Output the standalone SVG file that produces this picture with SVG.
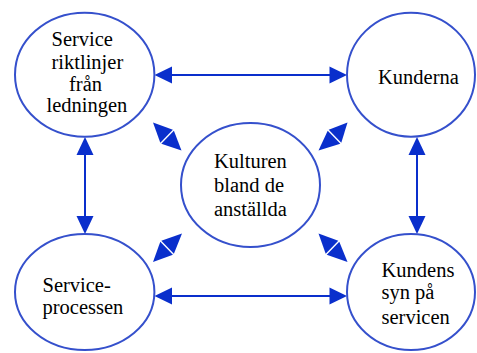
<svg xmlns="http://www.w3.org/2000/svg" width="477" height="353" viewBox="0 0 477 353">
<style>
.node ellipse{fill:#ffffff;stroke:#3550cc;stroke-width:2}
.node text{font-family:"Liberation Serif","Times New Roman",serif;font-size:20.5px;fill:#000000}
.conn line{stroke:#0a2fcc;stroke-width:2}
.conn polygon{fill:#0a2fcc;stroke:none}
</style>
<rect width="477" height="353" fill="#ffffff"/>
<g id="connectors" class="conn">
  <line x1="170" y1="75" x2="331" y2="75"/>
  <polygon points="154.5,75 172,66.5 172,83.5"/>
  <polygon points="347,75 329.5,66.5 329.5,83.5"/>
  <line x1="170" y1="296" x2="331" y2="296"/>
  <polygon points="154.5,296 172,287.5 172,304.5"/>
  <polygon points="347,296 329.5,287.5 329.5,304.5"/>
  <line x1="85" y1="153" x2="85" y2="218"/>
  <polygon points="85,137 76.5,155 93.5,155"/>
  <polygon points="85,234 76.5,216 93.5,216"/>
  <line x1="417" y1="153" x2="417" y2="218"/>
  <polygon points="417,137 408.5,155 425.5,155"/>
  <polygon points="417,234 408.5,216 425.5,216"/>
  <polygon points="153,122.5 160.3,142.7 172.9,129.7"/>
  <polygon points="181.5,150.5 161.3,143.7 173.9,130.7"/>
  <polygon points="347.5,122.5 328.7,129.7 341.3,142.7"/>
  <polygon points="318.5,150.5 327.7,130.7 340.3,143.7"/>
  <polygon points="182,233.5 161.3,240.7 173.9,253.7"/>
  <polygon points="153,262 160.3,241.7 172.9,254.7"/>
  <polygon points="318.5,233.5 325.7,253.7 338.3,240.7"/>
  <polygon points="347.5,262 326.7,254.7 339.3,241.7"/>
</g>
<g id="n_service_riktlinjer" class="node">
  <ellipse cx="84.7" cy="74.7" rx="69.7" ry="62"/>
  <text x="51.5" y="46">Service</text>
  <text x="51.5" y="69">riktlinjer</text>
  <text x="69" y="91">från</text>
  <text x="46.5" y="112">ledningen</text>
</g>
<g id="n_kunderna" class="node">
  <ellipse cx="411" cy="74.7" rx="64" ry="62"/>
  <text x="378" y="83.5">Kunderna</text>
</g>
<g id="n_kulturen" class="node">
  <ellipse cx="250.5" cy="185" rx="69.5" ry="62"/>
  <text x="214" y="168">Kulturen</text>
  <text x="214" y="192">bland de</text>
  <text x="214" y="216">anställda</text>
</g>
<g id="n_serviceprocessen" class="node">
  <ellipse cx="84.7" cy="292" rx="69.7" ry="58"/>
  <text x="42.5" y="292">Service-</text>
  <text x="42.5" y="313.5">processen</text>
</g>
<g id="n_kundens_syn" class="node">
  <ellipse cx="411" cy="292" rx="64" ry="58"/>
  <text x="381.5" y="277">Kundens</text>
  <text x="381.5" y="298.5">syn på</text>
  <text x="381.5" y="323.5">servicen</text>
</g>
</svg>
